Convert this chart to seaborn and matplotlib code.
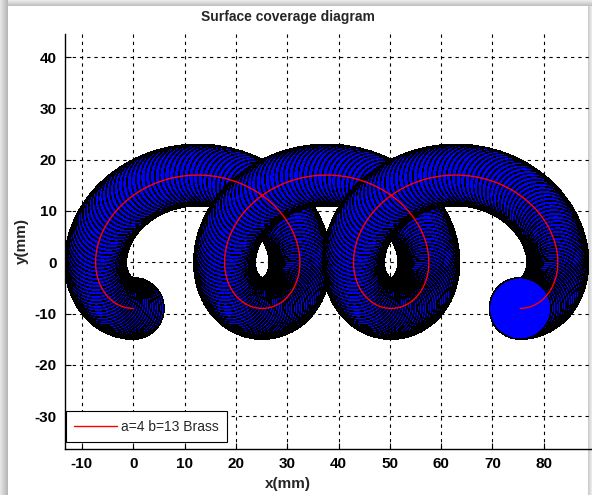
import numpy as np
import matplotlib
matplotlib.use("Agg")
import matplotlib.pyplot as plt
from matplotlib.patches import Circle
from matplotlib.collections import PatchCollection
import seaborn as sns

# Tool path parameters (trochoidal milling path)
a = 4.0            # advance per radian (mm)
b = 13.0           # loop radius (mm)
tool_radius = 6.0  # radius of the brass tool footprint (mm)
turns = 3          # number of loops
n_steps = 340      # tool positions along the path
legend_label = "a=4 b=13 Brass"

x_ticks = [-10, 0, 10, 20, 30, 40, 50, 60, 70, 80]
y_ticks = [-30, -20, -10, 0, 10, 20, 30, 40]

theta = np.linspace(0, 2 * np.pi * turns, n_steps)
path_x = a * theta - b * np.sin(theta)
path_y = a - b * np.cos(theta)

sns.set_style("white")
narrow = ["Liberation Sans Narrow", "Liberation Sans", "DejaVu Sans"]
regular = ["Liberation Sans", "Arial", "DejaVu Sans"]
plt.rcParams["font.family"] = narrow

W, H = 592, 495
fig = plt.figure(figsize=(W / 100, H / 100), dpi=100)
fig.patch.set_facecolor("white")

# window frame with a soft drop shadow
bg = np.ones((H, W, 3))
left_band = 8
for i in range(left_band):
    v = 0.90 - 0.18 * i / (left_band - 1)
    bg[:, i, :] = v
top_band = 6
for j in range(top_band):
    v = 0.92 - 0.16 * j / (top_band - 1)
    bg[j, left_band:, :] = np.minimum(bg[j, left_band:, :], v)
right_band = 4
for i in range(right_band):
    v = 0.80 + 0.12 * i / (right_band - 1)
    bg[top_band:, W - right_band + i, :] = v
fig.figimage(bg, 0, 0, origin="upper", zorder=0)

ax = fig.add_axes([65 / W, 1 - 449 / H, (W - 65) / W, (449 - 34) / H])
ax.set_facecolor("none")
ax.set_zorder(1)

# tool footprints along the path, later positions drawn over earlier ones
circles = [Circle((cx, cy), tool_radius) for cx, cy in zip(path_x, path_y)]
coll = PatchCollection(circles, facecolor="#0000ff", edgecolor="black",
                       linewidth=0.4, antialiased=False, zorder=2)
ax.add_collection(coll)

sns.lineplot(x=path_x, y=path_y, sort=False, estimator=None, color="red",
             linewidth=1.0, label=legend_label, ax=ax, zorder=3)

ax.set_xlim(-13.3, 89.4)
ax.set_ylim(-36.4, 44.5)
ax.set_xticks(x_ticks)
ax.set_yticks(y_ticks)
ax.set_xticklabels([str(v) for v in x_ticks], fontweight="bold", fontsize=11)
ax.set_yticklabels([str(v) for v in y_ticks], fontweight="bold", fontsize=11)
ax.tick_params(direction="in", length=4, width=0.8, color="black",
               pad=6, labelcolor="black", top=False, right=False,
               bottom=True, left=True)
ax.set_axisbelow(True)
ax.grid(True, color="black", linestyle=(0, (3, 3.5)), linewidth=0.8)

for side in ("top", "right"):
    ax.spines[side].set_visible(False)
for side in ("left", "bottom"):
    ax.spines[side].set_color("black")
    ax.spines[side].set_linewidth(1.0)

# title and x label centred on the plot box
label_centre = (288 - 65) / (W - 65)
ax.set_title("Surface coverage diagram", fontweight="bold", fontsize=10,
             pad=9, x=label_centre)
ax.set_xlabel("x(mm)", fontweight="bold", fontsize=11, labelpad=3)
ax.xaxis.set_label_coords(label_centre, -0.068)
ax.set_ylabel("y(mm)", fontweight="bold", fontsize=11, labelpad=4)

leg = ax.legend(loc="lower left", bbox_to_anchor=(0.001, 0.016),
                borderaxespad=0.0, frameon=True, fancybox=False,
                edgecolor="black", framealpha=1.0, handlelength=3.1,
                handletextpad=0.25, borderpad=0.62,
                prop={"family": regular, "size": 10})
leg.get_frame().set_linewidth(0.8)

fig.savefig("out.png", dpi=100)
